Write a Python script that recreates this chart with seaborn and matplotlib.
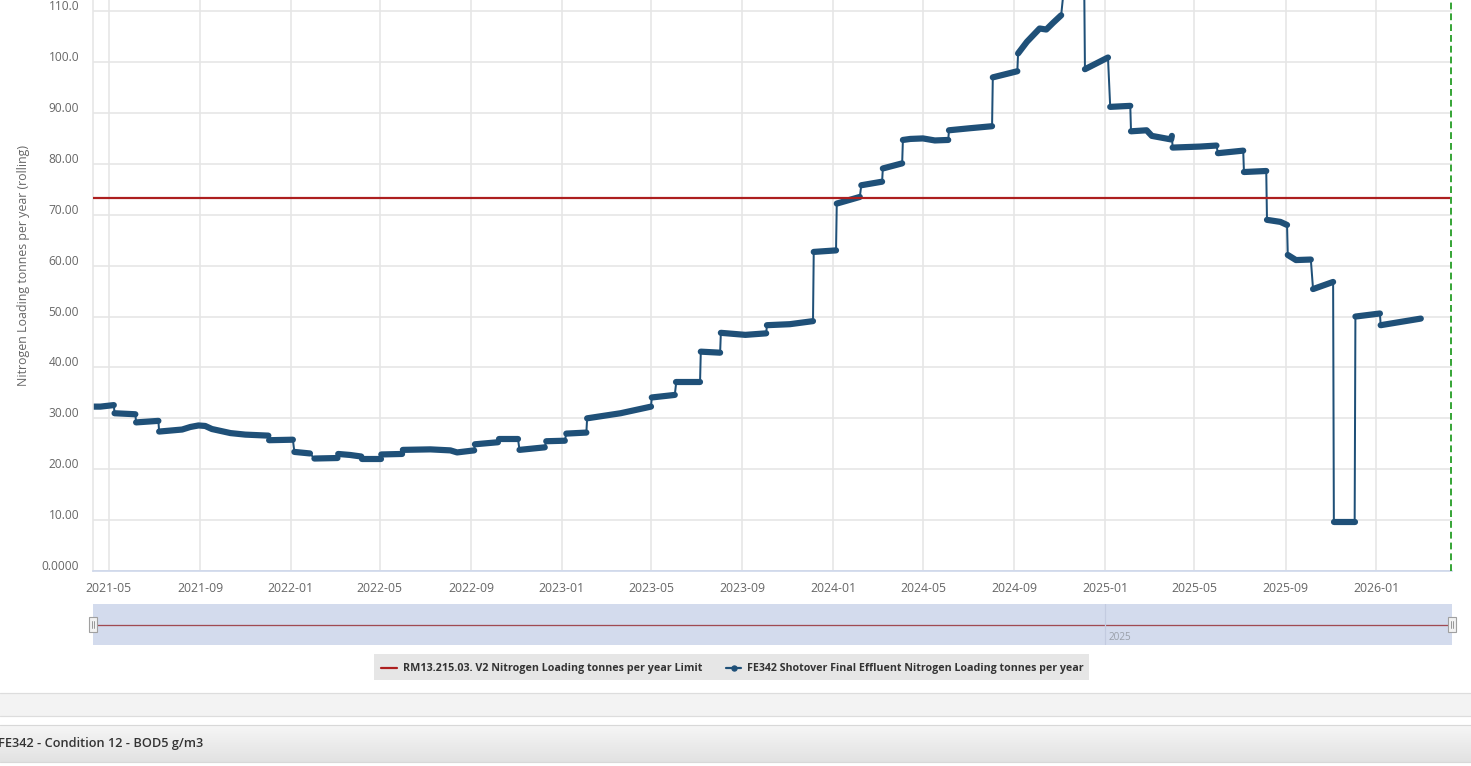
import numpy as np
import pandas as pd
import matplotlib
matplotlib.use("Agg")
import matplotlib.pyplot as plt
import matplotlib.dates as mdates
import matplotlib.transforms as mtrans
from matplotlib.patches import Rectangle
from matplotlib.lines import Line2D
import seaborn as sns

# ---------------- data ----------------
dates = [
    "2021-04-10", "2021-04-20", "2021-05-08",
    "2021-05-09", "2021-06-06",
    "2021-06-07", "2021-07-07",
    "2021-07-08", "2021-08-08", "2021-08-19", "2021-08-30", "2021-09-08", "2021-09-17", "2021-10-12", "2021-11-01", "2021-12-02",
    "2021-12-03", "2022-01-04",
    "2022-01-06", "2022-01-27",
    "2022-02-02", "2022-03-05",
    "2022-03-06", "2022-03-22", "2022-04-06",
    "2022-04-07", "2022-05-02",
    "2022-05-03", "2022-05-31",
    "2022-06-01", "2022-07-08", "2022-08-04", "2022-08-13", "2022-09-05",
    "2022-09-06", "2022-10-07",
    "2022-10-09", "2022-11-03",
    "2022-11-05", "2022-12-09",
    "2022-12-11", "2023-01-05",
    "2023-01-07", "2023-02-03",
    "2023-02-04", "2023-03-21", "2023-05-01",
    "2023-05-02", "2023-06-02",
    "2023-06-04", "2023-07-06",
    "2023-07-07", "2023-08-02",
    "2023-08-03", "2023-09-05", "2023-10-03",
    "2023-10-04", "2023-11-04", "2023-12-05",
    "2023-12-06", "2024-01-05",
    "2024-01-06", "2024-02-06",
    "2024-02-08", "2024-03-07",
    "2024-03-08", "2024-04-03",
    "2024-04-04", "2024-04-14", "2024-05-01", "2024-05-17", "2024-06-04",
    "2024-06-05", "2024-07-03", "2024-08-02",
    "2024-08-03", "2024-09-05",
    "2024-09-06", "2024-09-18", "2024-10-05", "2024-10-14", "2024-10-23", "2024-11-03",
    "2024-11-06", "2024-12-04",
    "2024-12-05", "2025-01-05",
    "2025-01-08", "2025-02-04",
    "2025-02-05", "2025-02-26", "2025-03-05", "2025-03-31", "2025-04-01",
    "2025-04-02", "2025-05-09", "2025-05-31",
    "2025-06-02", "2025-07-06",
    "2025-07-07", "2025-08-06",
    "2025-08-07", "2025-08-25", "2025-09-03",
    "2025-09-04", "2025-09-15", "2025-10-05",
    "2025-10-08", "2025-11-04",
    "2025-11-05", "2025-12-03",
    "2025-12-04", "2026-01-06",
    "2026-01-07", "2026-03-02",
]
values = [
    32.3, 32.3, 32.6,
    31.0, 30.8,
    29.2, 29.5,
    27.4, 27.8, 28.3, 28.6, 28.5, 27.9, 27.1, 26.8, 26.6,
    25.7, 25.8,
    23.4, 23.1,
    22.1, 22.2,
    23.0, 22.8, 22.5,
    22.0, 22.0,
    22.9, 23.0,
    23.8, 23.9, 23.7, 23.3, 23.7,
    24.9, 25.3,
    25.9, 25.9,
    23.8, 24.3,
    25.5, 25.6,
    27.0, 27.2,
    30.0, 31.0, 32.3,
    34.1, 34.6,
    37.2, 37.2,
    43.1, 42.9,
    46.8, 46.4, 46.7,
    48.3, 48.5, 49.1,
    62.7, 63.0,
    72.2, 73.5,
    75.8, 76.5,
    79.1, 80.1,
    84.7, 84.9, 85.0, 84.6, 84.7,
    86.6, 87.0, 87.4,
    97.0, 98.2,
    101.7, 104.0, 106.6, 106.4, 107.7, 109.2,
    113.5, 115.5,
    98.6, 100.9,
    91.2, 91.4,
    86.4, 86.6, 85.5, 84.8, 85.5,
    83.2, 83.4, 83.6,
    82.1, 82.6,
    78.4, 78.6,
    69.0, 68.6, 68.0,
    62.1, 61.1, 61.2,
    55.4, 56.8,
    9.7, 9.7,
    50.0, 50.6,
    48.3, 49.6,
]
step_id = [
    1, 1, 1, 2, 2, 3, 3, 4, 4, 4, 4, 4, 4, 4, 4, 4, 5, 5, 6, 6, 7, 7, 8, 8, 8,
    9, 9, 10, 10, 11, 11, 11, 11, 11, 12, 12, 13, 13, 14, 14, 15, 15, 16, 16,
    17, 17, 17, 18, 18, 19, 19, 20, 20, 21, 21, 21, 22, 22, 22, 23, 23, 24, 24,
    25, 25, 26, 26, 27, 27, 27, 27, 27, 28, 28, 28, 29, 29, 30, 30, 30, 30, 30, 30,
    31, 31, 32, 32, 33, 33, 34, 34, 34, 34, 34, 35, 35, 35, 36, 36, 37, 37,
    38, 38, 38, 39, 39, 39, 40, 40, 41, 41, 42, 42, 43, 43,
]

limit_value = 73.2
y_ticks = [0, 10, 20, 30, 40, 50, 60, 70, 80, 90, 100, 110]
y_tick_labels = ["0.0000", "10.00", "20.00", "30.00", "40.00", "50.00",
                 "60.00", "70.00", "80.00", "90.00", "100.0", "110.0"]
x_start, x_end = "2021-04-10", "2026-04-13"
marker_date = "2026-04-12"
nav_year_date, nav_year_label = "2025-01-01", "2025"
limit_name = "RM13.215.03. V2 Nitrogen Loading tonnes per year Limit"
series_name = "FE342 Shotover Final Effluent Nitrogen Loading tonnes per year"
y_title = "Nitrogen Loading tonnes per year (rolling)"
panel_title = "FE342 - Condition 12 - BOD5 g/m3"

# ---------------- style ----------------
sns.set_theme(style="white")
plt.rcParams["font.family"] = ["Open Sans", "DejaVu Sans"]

SERIES_C = "#1f5078"
LIMIT_C = "#ad1f1f"
GRID_C = "#e6e6e6"
AXIS_C = "#ccd6eb"
TXT_C = "#666666"

W, H = 1471, 766
fig = plt.figure(figsize=(W / 100, H / 100), dpi=100)
fig.patch.set_facecolor("white")


def fx(px):
    return px / W


def fy(py):
    return 1 - py / H


PX = 72 / 100  # points per pixel

# ---------------- main axes ----------------
ax = fig.add_axes([fx(93), fy(571), fx(1452) - fx(93), fy(0) - fy(571)])
df = pd.DataFrame({"date": pd.to_datetime(dates), "value": values, "step": step_id})

sns.lineplot(data=df, x="date", y="value", estimator=None, sort=False,
             color=SERIES_C, lw=2.0 * PX, ax=ax, legend=False)
sns.lineplot(data=df, x="date", y="value", units="step", estimator=None,
             color=SERIES_C, lw=6.2 * PX, ax=ax, legend=False,
             solid_capstyle="round", solid_joinstyle="round")

ax.axhline(limit_value, color=LIMIT_C, lw=2.2 * PX, zorder=3)
ax.axvline(pd.Timestamp(marker_date), color="#3aa63a", lw=2.0 * PX,
           ls=(0, (3.4, 2.0)), zorder=4)

ax.set_xlim(pd.Timestamp(x_start), pd.Timestamp(x_end))
ax.set_ylim(0, 112.2)
ax.set_yticks(y_ticks)
ax.set_yticklabels(y_tick_labels)
ax.xaxis.set_major_locator(mdates.MonthLocator(bymonth=[1, 5, 9]))
ax.xaxis.set_major_formatter(mdates.DateFormatter("%Y-%m"))
ax.grid(True, color=GRID_C, lw=1.6 * PX)
ax.set_axisbelow(True)
ax.set_xlabel("")
ax.set_ylabel("")
for s in ["top", "right"]:
    ax.spines[s].set_visible(False)
ax.spines["left"].set_color(GRID_C)
ax.spines["left"].set_linewidth(1.6 * PX)
ax.spines["bottom"].set_color(AXIS_C)
ax.spines["bottom"].set_linewidth(1.6 * PX)
ax.tick_params(axis="x", length=8 * PX, width=1.4 * PX, color=AXIS_C,
               pad=2, labelsize=8.8, labelcolor=TXT_C)
ax.tick_params(axis="y", length=0, pad=10, labelsize=8.6, labelcolor=TXT_C)
off = mtrans.ScaledTranslation(0, 6 / 100, fig.dpi_scale_trans)
for lab in ax.get_yticklabels():
    lab.set_transform(lab.get_transform() + off)

fig.text(fx(24), fy(265), y_title, rotation=90, ha="center", va="center",
         fontsize=8.9, color=TXT_C)

# ---------------- navigator ----------------
nav = fig.add_axes([fx(93), fy(645), fx(1452) - fx(93), fy(604) - fy(645)])
nav.set_facecolor("#d3dbed")
nav.set_xlim(pd.Timestamp(x_start), pd.Timestamp(x_end))
nav.set_ylim(limit_value - 1, limit_value + 1)
nav.axhline(limit_value, color="#a04a52", lw=1.3 * PX)
nav.axvline(pd.Timestamp(nav_year_date), color="#c3cbe0", lw=1.2 * PX)
nav.text(pd.Timestamp(nav_year_date) + pd.Timedelta(days=5), limit_value - 0.62,
         nav_year_label, fontsize=7.2, color="#9aa0aa", ha="left", va="center")
nav.set_xticks([])
nav.set_yticks([])
for s in nav.spines.values():
    s.set_visible(False)

for hx in (89, 1448):
    fig.patches.append(Rectangle((fx(hx), fy(632)), fx(8), fy(617) - fy(632),
                                 transform=fig.transFigure, facecolor="#f2f2f2",
                                 edgecolor="#a0a0a0", lw=0.8, zorder=5))
    for lx in (hx + 3, hx + 5):
        fig.lines.append(Line2D([fx(lx), fx(lx)], [fy(621), fy(628)],
                                transform=fig.transFigure, color="#888888",
                                lw=0.6, zorder=6))

# ---------------- legend ----------------
fig.patches.append(Rectangle((fx(374), fy(680)), fx(1089) - fx(374), fy(654) - fy(680),
                             transform=fig.transFigure, facecolor="#e6e6e6",
                             edgecolor="none", zorder=1))
fig.lines.append(Line2D([fx(381), fx(397)], [fy(668), fy(668)],
                        transform=fig.transFigure, color=LIMIT_C, lw=2.2 * PX))
fig.lines.append(Line2D([fx(726), fx(741)], [fy(668), fy(668)],
                        transform=fig.transFigure, color=SERIES_C, lw=2.2 * PX))
fig.lines.append(Line2D([fx(733.5)], [fy(668)], transform=fig.transFigure,
                        color=SERIES_C, marker="o", markersize=5 * PX))
fig.text(fx(403), fy(668), limit_name, ha="left", va="center",
         fontsize=7.75, fontweight="bold", color="#333333")
fig.text(fx(747), fy(668), series_name, ha="left", va="center",
         fontsize=7.65, fontweight="bold", color="#333333")

# ---------------- bottom panels ----------------
fig.patches.append(Rectangle((0, fy(716)), 1, fy(693) - fy(716),
                             transform=fig.transFigure, facecolor="#f3f3f3",
                             edgecolor="none"))
for yy in (693, 716):
    fig.lines.append(Line2D([0, 1], [fy(yy), fy(yy)], transform=fig.transFigure,
                            color="#dddddd", lw=1.2 * PX))

band = fig.add_axes([0, fy(762), 1, fy(725) - fy(762)])
grad = np.linspace(0, 1, 64).reshape(-1, 1)
band.imshow(grad, aspect="auto", cmap=matplotlib.colors.LinearSegmentedColormap.from_list(
    "g", ["#f6f6f6", "#e2e2e2"]), extent=[0, 1, 0, 1], origin="upper")
band.set_xlim(0, 1)
band.set_ylim(0, 1)
band.set_xticks([])
band.set_yticks([])
for s in band.spines.values():
    s.set_visible(False)
for yy in (725, 762):
    fig.lines.append(Line2D([0, 1], [fy(yy), fy(yy)], transform=fig.transFigure,
                            color="#d8d8d8", lw=1.2 * PX, zorder=5))
fig.text(fx(-2), fy(743), panel_title, ha="left", va="center",
         fontsize=9.2, fontweight="semibold", color="#333333", zorder=6)

fig.savefig("out.png", dpi=100, facecolor="white")
